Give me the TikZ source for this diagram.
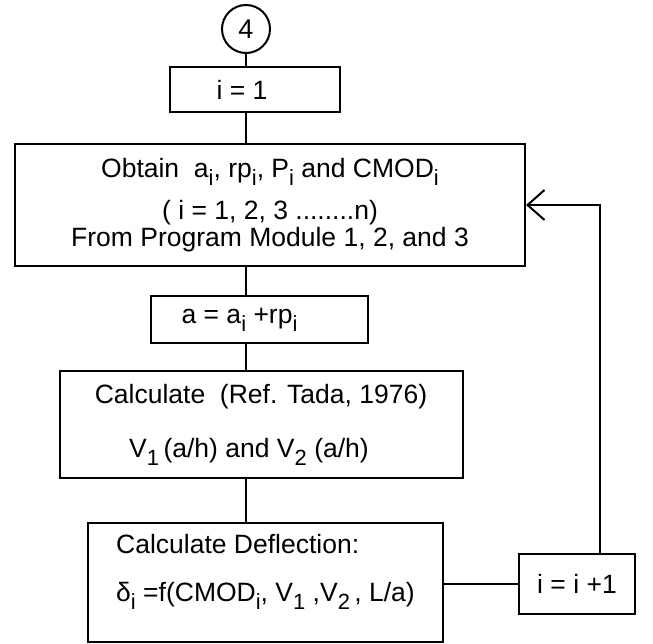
\documentclass[tikz,border=0pt]{standalone}
\usepackage{fontspec}
\setmainfont{Liberation Sans}
\usetikzlibrary{arrows.meta}
\newcommand{\lowsub}[1]{\raisebox{-8pt}{\fontsize{22}{22}\selectfont #1}}

\begin{document}
\begin{tikzpicture}[x=1pt, y=-1pt,
    flowbox/.style = {rectangle, draw=black, line width=2pt, align=center, inner sep=4pt, font=\fontsize{26.5}{29}\selectfont},
    connector/.style = {circle, draw=black, line width=2pt, minimum size=48pt, inner sep=0pt, font=\fontsize{27}{29}\selectfont},
    link/.style = {draw=black, line width=2pt},
    looparrow/.style = {draw=black, line width=2pt, -{Straight Barb[length=17pt, width=30pt, line width=2pt]}}
]
\useasboundingbox (0,0) rectangle (653,644);

% Connector: 4
\node (c_four) [connector] at (246,29) {4};

% Box: start index
\node (c_one) [flowbox, minimum width=170pt, minimum height=45pt] at (255,89.5) {i = 1\hspace*{26pt}};

% Box: read module data
\node (c_obtain) [flowbox, minimum width=510pt, minimum height=122pt] at (270,205) {
Obtain\ \ a\lowsub{i}, rp\lowsub{i}, P\lowsub{i}\ and CMOD\lowsub{i}\\[13pt]
( i = 1, 2, 3 ........n)\\[-2pt]
From Program Module 1, 2, and 3
};

% Box: crack length
\node (c_shift) [flowbox, minimum width=217pt, minimum height=47pt] at (259.5,319.5) {a = a\lowsub{i} +rp\lowsub{i}\hspace*{40pt}};

% Box: Tada functions
\node (c_tada) [flowbox, minimum width=403pt, minimum height=107pt] at (261,424.5) {
Calculate\ \ (Ref. Tada, 1976)\\[25pt]
V\lowsub{1}\,(a/h) and V\lowsub{2}\ (a/h)\hspace*{24pt}
};

% Box: deflection
\node (c_defl) [flowbox, align=left, minimum width=355pt, minimum height=119pt] at (265.5,582.5) {
Calculate Deflection:\\[19pt]
δ\lowsub{i}\ =f(CMOD\lowsub{i}, V\lowsub{1}\ ,V\lowsub{2}\,, L/a)\\
\mbox{}
};

% Box: next index
\node (c_incr) [flowbox, minimum width=116pt, minimum height=60pt] at (577,584) {i = i +1};

\coordinate (c_turn) at (600,205);

% Connections
\draw [link] (c_four.south) -- (c_four |- c_one.north);
\draw [link] (c_four |- c_one.south) -- (c_four |- c_obtain.north);
\draw [link] (c_four |- c_obtain.south) -- (c_four |- c_shift.north);
\draw [link] (c_four |- c_shift.south) -- (c_four |- c_tada.north);
\draw [link] (c_four |- c_tada.south) -- (c_four |- c_defl.north);
\draw [link] (c_defl.east |- c_incr.west) -- (c_incr.west);
\draw [looparrow] (c_incr.north -| c_turn) -- (c_turn) -- (c_obtain.east |- c_turn);

\end{tikzpicture}
\end{document}
